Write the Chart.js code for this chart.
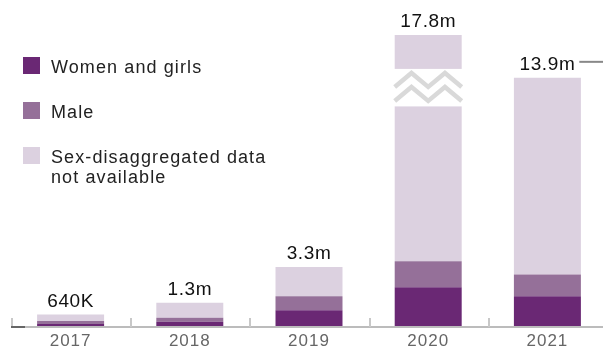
<!DOCTYPE html>
<html lang="en">
<head>
  <meta charset="UTF-8">
  <title>Stacked bars by year</title>
  <script src="https://cdn.jsdelivr.net/npm/chart.js"></script>
  <style>
    body {
      margin: 0;
      background: #fff;
      overflow: hidden;
      font-family: 'Liberation Sans', Arial, sans-serif;
    }
    .wrap {
      position: relative;
      width: 608px;
      height: 350px;
    }
    .legend-item {
      position: absolute;
      left: 23px;
      display: flex;
      align-items: flex-start;
      font-size: 18px;
      line-height: 20px;
      letter-spacing: 1.1px;
      color: #222;
    }
    .legend-item .box {
      width: 17px;
      height: 17px;
      margin-right: 11px;
      flex: none;
    }
  </style>
</head>
<body>
  <div class="wrap">
    <canvas id="chart" width="608" height="350"></canvas>
    <div id="legend"></div>
  </div>
  <script>
    // data (millions)
    const years = ['2017', '2018', '2019', '2020', '2021'];
    const women = [0.11, 0.24, 0.88, 2.17, 1.66];
    const male = [0.17, 0.22, 0.78, 1.46, 1.23];
    const notAvailable = [0.36, 0.84, 1.64, 14.17, 11.01];
    const totals = ['640K', '1.3m', '3.3m', '17.8m', '13.9m'];

    const seriesNames = ['Women and girls', 'Male', 'Sex-disaggregated data\nnot available'];
    const seriesColors = ['#6a2874', '#957099', '#dcd1e0'];

    // 2020 bar is drawn with a break: part of it is cut out
    const breakIndex = 3;
    const breakCut = 1.5;
    const breakFrom = 12.3;
    const breakTo = 14.4;

    const naShown = notAvailable.map((v, i) => i === breakIndex ? v - breakCut : v);

    // legend in html so the 2-line label works
    const legend = document.getElementById('legend');
    seriesNames.forEach((name, i) => {
      const item = document.createElement('div');
      item.className = 'legend-item';
      item.style.top = (57 + i * 45) + 'px';
      item.innerHTML = '<span class="box" style="background:' + seriesColors[i] + '"></span><span>' +
        name.replace('\n', '<br>') + '</span>';
      legend.appendChild(item);
    });

    const annotate = {
      id: 'annotate',
      beforeDraw(chart) {
        chart.ctx.letterSpacing = '1px';
      },
      afterDatasetsDraw(chart) {
        const { ctx, chartArea, scales: { x, y } } = chart;
        const top = chart.getDatasetMeta(2);
        const half = (x.getPixelForValue(1) - x.getPixelForValue(0)) / 2;
        const base = chartArea.bottom + 1;

        ctx.save();
        // axis line
        ctx.strokeStyle = '#bcbcbc';
        ctx.lineWidth = 2;
        ctx.beginPath();
        ctx.moveTo(chartArea.left, base);
        ctx.lineTo(chart.width, base);
        ctx.stroke();

        // ticks between categories
        ctx.strokeStyle = '#c8c8c8';
        for (let i = 0; i < years.length; i++) {
          const px = Math.round(x.getPixelForValue(i) - half) + 1;
          ctx.beginPath();
          ctx.moveTo(px, base);
          ctx.lineTo(px, base - 9);
          ctx.stroke();
        }
        ctx.strokeStyle = '#666';
        ctx.beginPath();
        ctx.moveTo(chartArea.left, base);
        ctx.lineTo(chartArea.left + 14, base);
        ctx.stroke();

        // break in the 2020 bar
        const bar = top.data[breakIndex];
        const left = bar.x - bar.width / 2;
        const gTop = y.getPixelForValue(breakTo);
        const gBot = y.getPixelForValue(breakFrom);
        ctx.fillStyle = '#fff';
        ctx.fillRect(left - 1, gTop, bar.width + 2, gBot - gTop);
        ctx.strokeStyle = '#d9d9d9';
        ctx.lineWidth = 4.5;
        ctx.lineJoin = 'miter';
        [0, 14].forEach(off => {
          const lo = gTop + 18 + off;
          const hi = gTop + 4 + off;
          ctx.beginPath();
          ctx.moveTo(left, lo);
          ctx.lineTo(left + bar.width * 0.25, hi);
          ctx.lineTo(left + bar.width * 0.5, lo);
          ctx.lineTo(left + bar.width * 0.75, hi);
          ctx.lineTo(left + bar.width, lo);
          ctx.stroke();
        });

        // totals above bars
        ctx.letterSpacing = '0.6px';
        ctx.font = '19px "Liberation Sans", Arial, sans-serif';
        ctx.fillStyle = '#111';
        ctx.textAlign = 'center';
        ctx.textBaseline = 'alphabetic';
        top.data.forEach((b, i) => {
          ctx.fillText(totals[i], b.x, b.y - 8);
        });

        // little leader line right of the last label
        const last = top.data[years.length - 1];
        const w = ctx.measureText(totals[years.length - 1]).width;
        ctx.strokeStyle = '#888';
        ctx.lineWidth = 2;
        ctx.beginPath();
        ctx.moveTo(last.x + w / 2 + 4, last.y - 16);
        ctx.lineTo(chart.width, last.y - 16);
        ctx.stroke();
        ctx.restore();
      }
    };

    new Chart(document.getElementById('chart'), {
      type: 'bar',
      data: {
        labels: years,
        datasets: [
          { label: seriesNames[0], data: women, backgroundColor: seriesColors[0] },
          { label: seriesNames[1], data: male, backgroundColor: seriesColors[1] },
          { label: seriesNames[2], data: naShown, backgroundColor: seriesColors[2] }
        ]
      },
      options: {
        responsive: false,
        animation: false,
        layout: { padding: { left: 11, right: 1, top: 0, bottom: 0 } },
        datasets: {
          bar: { barPercentage: 0.562, categoryPercentage: 1, borderWidth: 0 }
        },
        plugins: {
          legend: { display: false },
          tooltip: { enabled: false }
        },
        scales: {
          x: {
            stacked: true,
            grid: { display: false },
            border: { display: false },
            ticks: {
              color: '#666',
              padding: -3,
              font: { family: "'Liberation Sans', Arial, sans-serif", size: 17 }
            },
            afterFit: s => { s.height = 24; }
          },
          y: {
            stacked: true,
            display: false,
            min: 0,
            max: 18.26
          }
        }
      },
      plugins: [annotate]
    });
  </script>
</body>
</html>
